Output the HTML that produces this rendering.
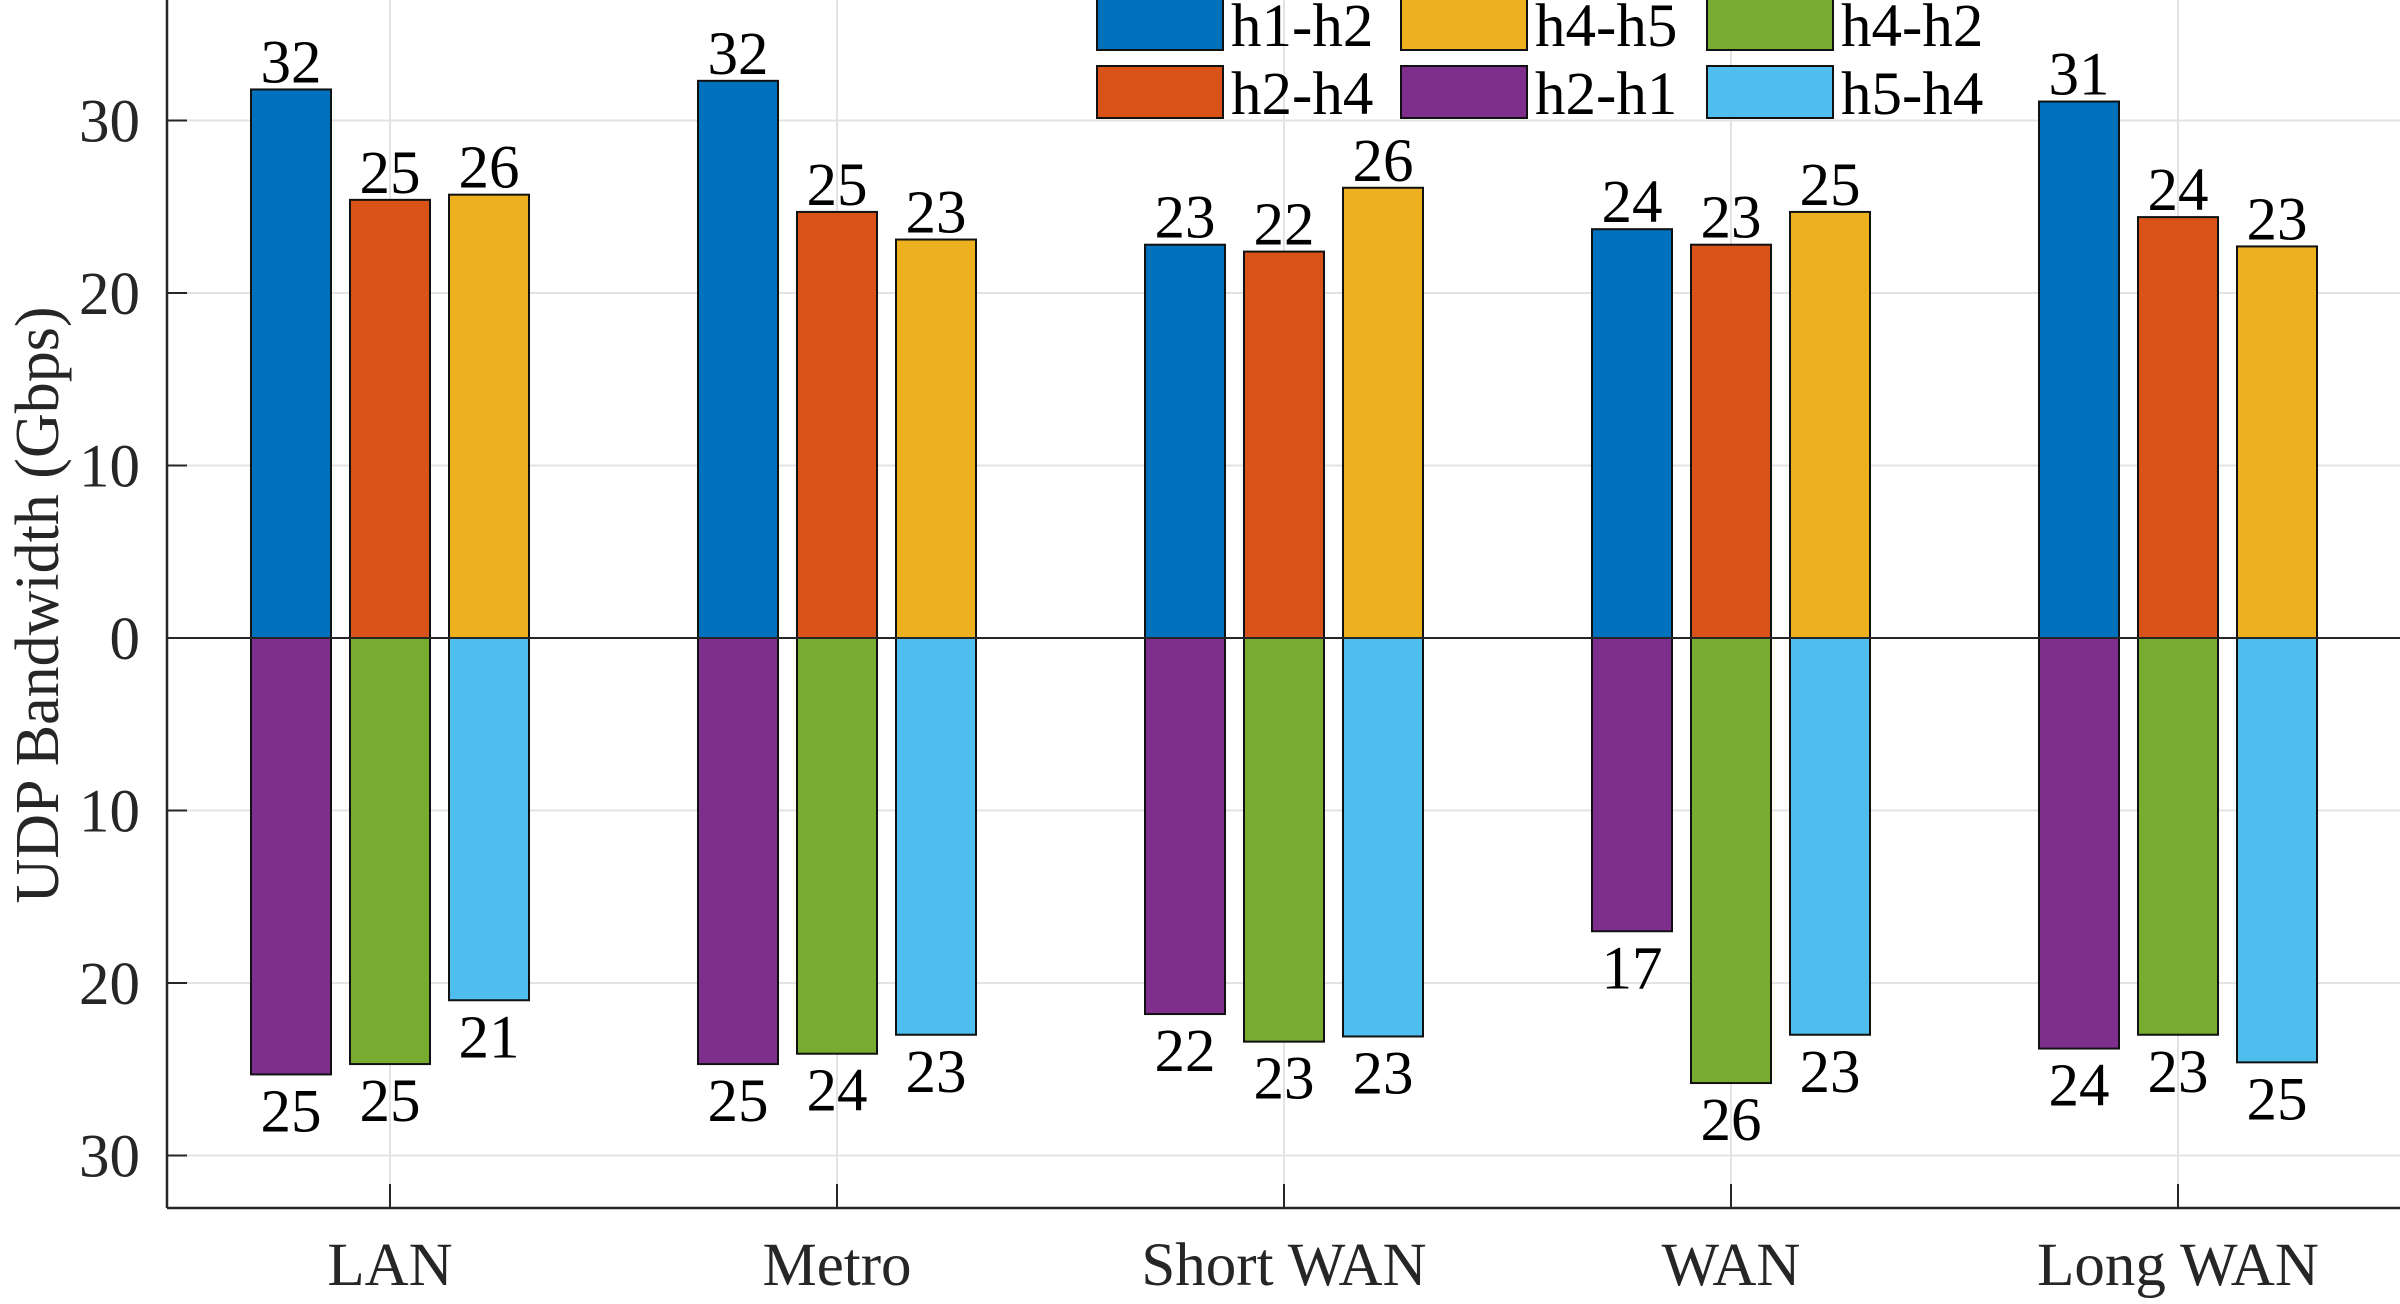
<!DOCTYPE html>
<html><head><meta charset="utf-8"><style>
html,body{margin:0;padding:0;background:#fff}
svg, svg text{font-family:"Liberation Serif","DejaVu Serif","Times New Roman",serif}
</style></head><body>
<svg id="chart" width="2400" height="1299" viewBox="0 0 2400 1299" xmlns="http://www.w3.org/2000/svg" font-family="Liberation Serif, DejaVu Serif, serif">
<g id="grid"></g>
<g id="bars"></g>
<g id="axes"></g>
<g id="labels"></g>
<g id="legend"></g>
<text x="0" y="0" transform="translate(58,605) rotate(-90)" text-anchor="middle" font-size="62" fill="#262626" font-family="Liberation Serif, serif">UDP Bandwidth (Gbps)</text>
</svg>
<script>
const categories = ["LAN","Metro","Short WAN","WAN","Long WAN"];
const upNames = ["h1-h2","h2-h4","h4-h5"];
const downNames = ["h2-h1","h4-h2","h5-h4"];
const h1h2 = [31.8,32.3,22.8,23.7,31.1];
const h2h4 = [25.4,24.7,22.4,22.8,24.4];
const h4h5 = [25.7,23.1,26.1,24.7,22.7];
const h2h1 = [25.3,24.7,21.8,17.0,23.8];
const h4h2 = [24.7,24.1,23.4,25.8,23.0];
const h5h4 = [21.0,23.0,23.1,23.0,24.6];
const yTicks = [30,20,10,0,-10,-20,-30];
const yTickLabels = ["30","20","10","0","10","20","30"];

const NS="http://www.w3.org/2000/svg";
const FONT="Liberation Serif, serif";
const FS=61;
const upColors=["#0072BD","#D95319","#EDB120"];
const downColors=["#7E2F8E","#77AC30","#4DBEEE"];
const L=167, B=1208, R=2400;
const xScale = i => 390 + i*447;
const yScale = v => 638 - v*17.25;
const barW=80, off=99;
function mk(tag,attrs,parent){const e=document.createElementNS(NS,tag);for(const k in attrs)e.setAttribute(k,attrs[k]);if(tag==='text')e.setAttribute('font-family',FONT);parent.appendChild(e);return e;}
const grid=document.getElementById('grid'),bars=document.getElementById('bars'),axes=document.getElementById('axes'),labels=document.getElementById('labels'),legend=document.getElementById('legend');

yTicks.forEach((t,i)=>{
  const y=yScale(t);
  if(t!==0){const g=mk('line',{x1:L,x2:R,y1:y,y2:y,stroke:'#e3e3e3','stroke-width':2},grid);
  
  }
  const tk=mk('line',{x1:L,x2:L+20,y1:y,y2:y,stroke:'#262626','stroke-width':2},axes);
  
  
  const tx=mk('text',{x:L-27,y:y+21,'text-anchor':'end','font-size':FS,fill:'#262626'},axes);
  tx.textContent=yTickLabels[i];
  
  
});
categories.forEach((c,i)=>{
  const x=xScale(i);
  const g=mk('line',{x1:x,x2:x,y1:0,y2:B,stroke:'#e3e3e3','stroke-width':2},grid);
  
  
  const tk=mk('line',{x1:x,x2:x,y1:B,y2:B-24,stroke:'#262626','stroke-width':2},axes);
  
  
  const tx=mk('text',{x:x,y:1285,'text-anchor':'middle','font-size':FS,fill:'#262626'},axes);
  tx.textContent=c;
  
  
});
const ups=[h1h2,h2h4,h4h5], downs=[h2h1,h4h2,h5h4];
categories.forEach((c,i)=>{
  for(let s=0;s<3;s++){
    const cx=xScale(i)+(s-1)*off;
    const v=ups[s][i], y=yScale(v);
    const r=mk('rect',{x:cx-barW/2,y:y,width:barW,height:yScale(0)-y,fill:upColors[s],stroke:'#111','stroke-width':2},bars);
    
    
    const t=mk('text',{x:cx,y:y-7,'text-anchor':'middle','font-size':FS,fill:'#000'},labels);
    t.textContent=Math.round(v);
    
    
    const d=downs[s][i], yb=yScale(-d);
    const r2=mk('rect',{x:cx-barW/2,y:yScale(0),width:barW,height:yb-yScale(0),fill:downColors[s],stroke:'#111','stroke-width':2},bars);
    
    
    const t2=mk('text',{x:cx,y:yb+57,'text-anchor':'middle','font-size':FS,fill:'#000'},labels);
    t2.textContent=Math.round(d);
    
    
  }
});
const zl=mk('line',{x1:L,x2:R,y1:yScale(0),y2:yScale(0),stroke:'#262626','stroke-width':2},axes);


const ya=mk('line',{x1:L,x2:L,y1:0,y2:B,stroke:'#262626','stroke-width':2.5},axes);


const xa=mk('line',{x1:L,x2:R,y1:B,y2:B,stroke:'#262626','stroke-width':2.5},axes);


const legItems=[["h1-h2",upColors[0],1097,0],["h4-h5",upColors[2],1401,0],["h4-h2",downColors[1],1707,0],
                ["h2-h4",upColors[1],1097,68],["h2-h1",downColors[0],1401,68],["h5-h4",downColors[2],1707,68]];
legItems.forEach(it=>{
  const r=mk('rect',{x:it[2],y:it[3]-2,width:126,height:52,fill:it[1],stroke:'#111','stroke-width':2},legend);
  
  
  const t=mk('text',{x:it[2]+134,y:it[3]+46,'font-size':FS,fill:'#000'},legend);
  t.textContent=it[0];
  
  
});
</script>
</body></html>
